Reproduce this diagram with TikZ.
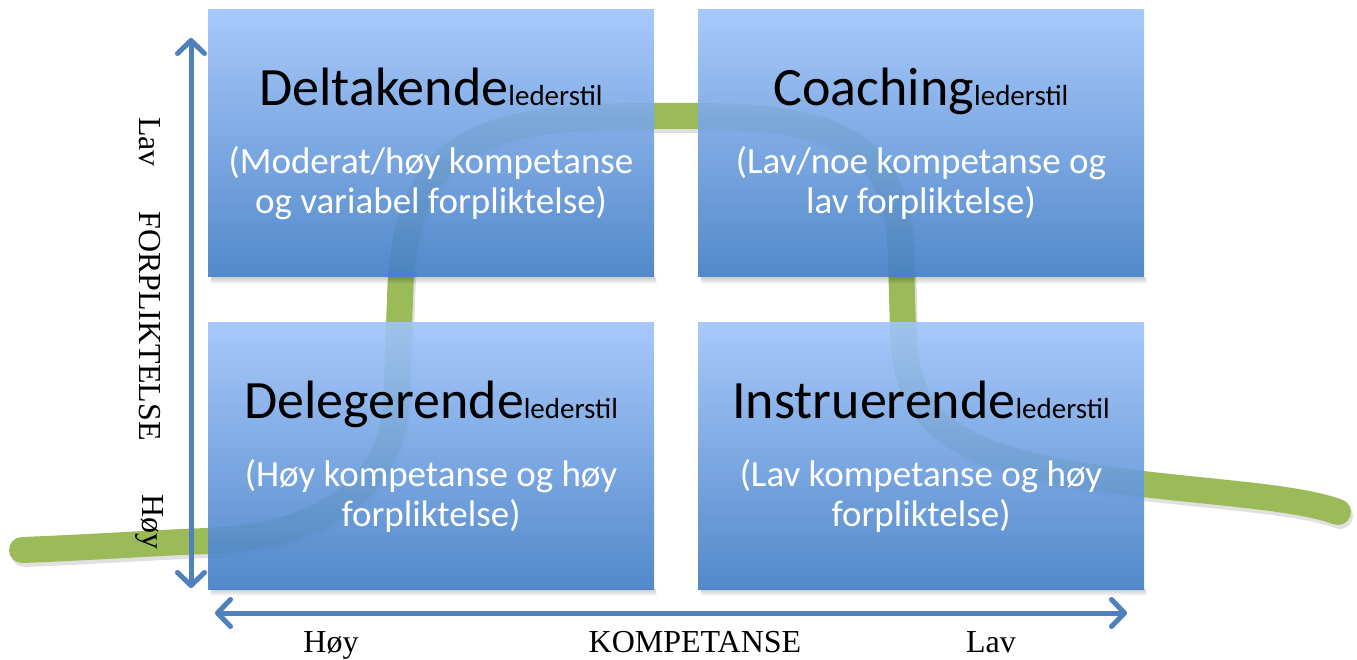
\documentclass[tikz,border=0pt]{standalone}
\usepackage{fontspec}
\usetikzlibrary{arrows.meta}
\newfontfamily\boxfont{Carlito}
\newfontfamily\axisfont{Liberation Serif}
\definecolor{boxtop}{RGB}{160,196,250}
\definecolor{boxbot}{RGB}{68,127,198}
\definecolor{axisblue}{RGB}{79,129,189}
\definecolor{curvegreen}{RGB}{155,187,89}
\newcommand{\ledertxt}{{\fontsize{29}{34}\selectfont lederstil}}

\begin{document}
\begin{tikzpicture}[x=1pt,y=-1pt,
  quad/.style={minimum width=446pt, minimum height=267pt, inner sep=0pt,
    top color=boxtop, bottom color=boxbot, fill opacity=0.92, draw=none},
  boxtitle/.style={font=\boxfont\fontsize{54}{62}\selectfont, anchor=base, inner sep=0pt},
  boxsub/.style={font=\boxfont\fontsize{37}{44}\selectfont, text=white, anchor=base, inner sep=0pt},
  axislab/.style={font=\axisfont\fontsize{32}{38}\selectfont, inner sep=0pt},
  axisline/.style={draw=axisblue, line width=5pt, line cap=round, line join=round,
    {Straight Barb[length=13pt,width=27pt,line cap=round,line join=round]}-{Straight Barb[length=13pt,width=27pt,line cap=round,line join=round]}},
  curve/.style={line width=26pt, line cap=round, line join=round},
]
\useasboundingbox (0,0) rectangle (1357,660);

% the green development curve, with a soft shadow
\def\curvepath{(22,550) .. controls (100,547) and (150,543) .. (207,541)
  .. controls (330,537) and (394,480) .. (396,400) -- (400,300)
  .. controls (403,140) and (480,116) .. (654,116) -- (698,116)
  .. controls (850,117) and (899,150) .. (901,260) -- (903,330)
  .. controls (905,430) and (960,462) .. (1143,484)
  .. controls (1230,494) and (1300,498) .. (1338,512)}
\draw[curve, draw=black, draw opacity=0.12, shift={(2,4)}] \curvepath;
\draw[curve, draw=curvegreen] \curvepath;

% soft shadows under the four boxes
\foreach \bx/\by in {208/10, 698/10, 208/322, 698/322} {
  \foreach \k in {1,...,7} {
    \fill[black, opacity=0.03] (\bx+3, \by+267) rectangle (\bx+446+\k*0.4, \by+267+\k);
  }
}

% the four quadrants
\node[quad] (tl) at (431,143.5) {};
\node[quad] (tr) at (921,143.5) {};
\node[quad] (bl) at (431,455.5) {};
\node[quad] (br) at (921,455.5) {};

% quadrant texts
\node[boxtitle] (tl-t) at (431,106) {Deltakende\ledertxt};
\node[boxsub] (tl-s1) at (431,174) {(Moderat/høy kompetanse};
\node[boxsub] (tl-s2) at (431,214) {og variabel forpliktelse)};

\node[boxtitle] (tr-t) at (921,106) {Coaching\ledertxt};
\node[boxsub] (tr-s1) at (921,174) {(Lav/noe kompetanse og};
\node[boxsub] (tr-s2) at (921,214) {lav forpliktelse)};

\node[boxtitle] (bl-t) at (431,418) {Delegerende\ledertxt};
\node[boxsub] (bl-s1) at (431,486) {(Høy kompetanse og høy};
\node[boxsub] (bl-s2) at (431,526) {forpliktelse)};

\node[boxtitle] (br-t) at (921,418) {Instruerende\ledertxt};
\node[boxsub] (br-s1) at (921,486) {(Lav kompetanse og høy};
\node[boxsub] (br-s2) at (921,526) {forpliktelse)};

% axes
\coordinate (vtop) at (191,38);
\coordinate (vbot) at (191,588);
\coordinate (hleft) at (215,613);
\coordinate (hright) at (1127,613);
\begin{scope}[shift={(1.5,2.5)}]
  \draw[axisline, draw=black, draw opacity=0.15] (vtop) -- (vbot);
  \draw[axisline, draw=black, draw opacity=0.15] (hleft) -- (hright);
\end{scope}
\draw[axisline] (vtop) -- (vbot);
\draw[axisline] (hleft) -- (hright);

% axis labels
\node[axislab, rotate=-90] (y-lav) at (150,142) {Lav};
\node[axislab, rotate=-90] (y-name) at (150,326) {FORPLIKTELSE};
\node[axislab, rotate=-90] (y-hoy) at (150,522) {Høy};
\node[axislab, anchor=base] (x-hoy) at (331,652) {Høy};
\node[axislab, anchor=base] (x-name) at (695,652) {KOMPETANSE};
\node[axislab, anchor=base] (x-lav) at (991,652) {Lav};
\end{tikzpicture}
\end{document}
